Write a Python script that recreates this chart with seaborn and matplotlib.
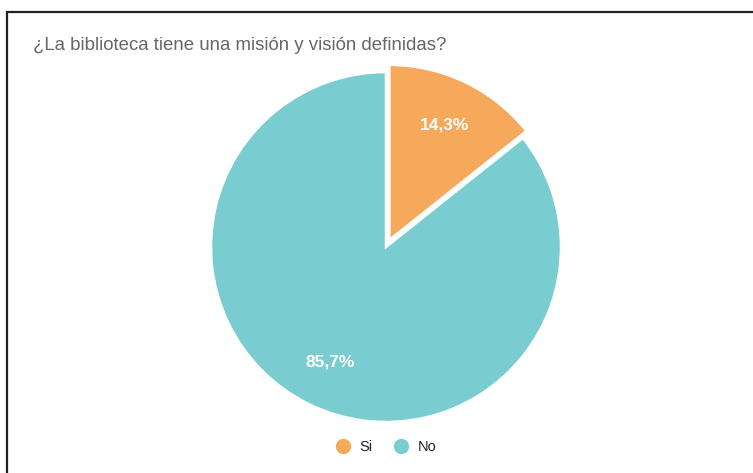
import numpy as np
import pandas as pd
import matplotlib
matplotlib.use("Agg")
import matplotlib.pyplot as plt
import seaborn as sns
from matplotlib.patches import Rectangle
from matplotlib.lines import Line2D

# data
categories = ["Si", "No"]
values = [14.3, 85.7]
colors = ["#F6A85B", "#79CDD0"]
title = "¿La biblioteca tiene una misión y visión definidas?"

sns.set_theme(style="white")
plt.rcParams['font.family'] = ['Liberation Sans', 'DejaVu Sans']

fig = plt.figure(figsize=(7.53, 4.73), dpi=100)
W, H = 753, 473

# frame (top and left edges visible)
fig.patches.append(Rectangle((7 / W, -0.1), 1.2, (H - 12) / H + 0.1,
                             transform=fig.transFigure, fill=False,
                             edgecolor="#222222", linewidth=1.6))

# pie axes
cx, cy, r = 386, 247, 175
ax = fig.add_axes([(cx - r) / W, (H - cy - r) / H, 2 * r / W, 2 * r / H])
wedges, texts, autotexts = ax.pie(
    values, colors=sns.color_palette(colors), startangle=90, counterclock=False,
    explode=[0.045, 0], autopct=lambda p: f"{p:.1f}%".replace(".", ","),
    pctdistance=0.73, wedgeprops=dict(edgecolor="white", linewidth=1.8),
    textprops=dict(color="white", fontsize=12.5, fontweight="bold"))
ax.set_xlim(-1, 1)
ax.set_ylim(-1, 1)
ax.set_aspect("equal")
ax.axis("off")
for w in wedges:
    w.set_clip_on(False)

fig.text(33 / W, 1 - 46 / H, title, fontsize=13.4, color="#666666",
         ha="left", va="center")

handles = [Line2D([], [], marker="o", linestyle="", markersize=10,
                  markerfacecolor=c, markeredgecolor=c) for c in colors]
fig.legend(handles, categories, loc="center", bbox_to_anchor=(386 / W, 1 - 447 / H),
           ncol=2, frameon=False, fontsize=10.5, handlelength=1.0,
           handletextpad=0.6, columnspacing=1.5, labelcolor="#222222")

fig.savefig("out.png", dpi=100)
